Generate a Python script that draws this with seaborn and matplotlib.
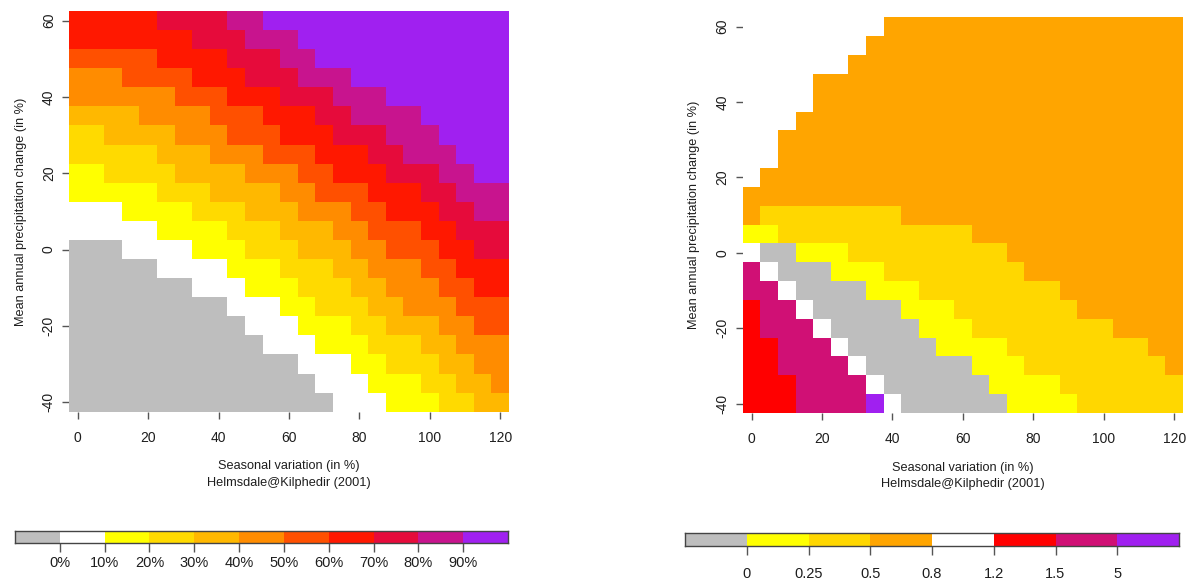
import numpy as np
import pandas as pd
import matplotlib
matplotlib.use("Agg")
import matplotlib.pyplot as plt
from matplotlib.colors import ListedColormap
import seaborn as sns

# grid of the sensitivity domain
SEASONAL = np.arange(0, 125, 5)          # seasonal variation (%), columns
PRECIP = np.arange(60, -45, -5)          # mean annual precipitation change (%), rows, top first

X_TICKS = [0, 20, 40, 60, 80, 100, 120]
Y_TICKS = [60, 40, 20, 0, -20, -40]

# ---- left panel: percentage classes ----
PCT_COLORS = ["#BEBEBE", "#FFFFFF", "#FFFF00", "#FFDA00", "#FFB800", "#FF8C00",
              "#FF5000", "#FF1800", "#E60B3B", "#C8148E", "#A020F0"]
PCT_LABELS = ["0%", "10%", "20%", "30%", "40%", "50%", "60%", "70%", "80%", "90%"]
# one string per row (60 at top), one hex digit per column = class index
PCT_CLASSES = [
    "77777888899AAAAAAAAAAAAAA",
    "7777777888999AAAAAAAAAAAA",
    "66666777788899AAAAAAAAAAA",
    "5556666777888999AAAAAAAAA",
    "555555666777888999AAAAAAA",
    "44445555666777889999AAAAA",
    "334444555666777888999AAAA",
    "3333344455566677788999AAA",
    "22333344445556677788899AA",
    "2222233344445566677788999",
    "1112222333444555667778899",
    "1111122223334445566677888",
    "0001111222333444556667788",
    "0000011112223334455566777",
    "0000000111222333445556677",
    "0000000001112233344555666",
    "0000000000111222334445566",
    "0000000000011122233344555",
    "0000000000000111223334455",
    "0000000000000011122233445",
    "0000000000000001112223344",
]

# ---- right panel: ratio classes ----
RATIO_COLORS = ["#BEBEBE", "#FFFF00", "#FFD700", "#FFA500", "#FFFFFF",
                "#FF0000", "#D01075", "#A020F0"]
RATIO_LABELS = ["0", "0.25", "0.5", "0.8", "1.2", "1.5", "5"]
RATIO_CLASSES = [
    "4444444433333333333333333",
    "4444444333333333333333333",
    "4444443333333333333333333",
    "4444333333333333333333333",
    "4444333333333333333333333",
    "4443333333333333333333333",
    "4433333333333333333333333",
    "4433333333333333333333333",
    "4333333333333333333333333",
    "3333333333333333333333333",
    "3222222223333333333333333",
    "1122222222222333333333333",
    "4001112222222223333333333",
    "6400011122222222333333333",
    "6640000111222222223333333",
    "5664000001112222222333333",
    "5666400000111222222223333",
    "5566640000011112222222233",
    "5566664000000111222222223",
    "5556666400000011112222222",
    "5556666740000001111222222",
]

XLABEL = "Seasonal variation (in %)\nHelmsdale@Kilphedir (2001)"
YLABEL = "Mean annual precipitation change (in %)"

TEXT = "#1e1e1e"
TICK = "#555555"


def to_grid(rows):
    return pd.DataFrame([[int(c, 16) for c in r] for r in rows], index=PRECIP, columns=SEASONAL)


def draw_panel(fig, rect, rows, colors):
    ax = fig.add_axes(rect)
    sns.heatmap(to_grid(rows), cmap=ListedColormap(colors), vmin=-0.5, vmax=len(colors) - 0.5,
                cbar=False, xticklabels=False, yticklabels=False, ax=ax)
    xpos = np.interp(X_TICKS, SEASONAL, np.arange(len(SEASONAL))) + 0.5
    ypos = np.interp(Y_TICKS, PRECIP[::-1], np.arange(len(PRECIP))[::-1]) + 0.5
    ax.set_xticks(xpos)
    ax.set_xticklabels([str(v) for v in X_TICKS], rotation=0)
    ax.set_yticks(ypos)
    ax.set_yticklabels([str(v) for v in Y_TICKS], rotation=90, va="center")
    ax.tick_params(axis="both", bottom=True, left=True, length=5, width=1, color=TICK,
                   labelsize=10, labelcolor=TEXT)
    ax.tick_params(axis="x", pad=9)
    ax.tick_params(axis="y", pad=4.5)
    ax.set_xlabel(XLABEL, fontsize=9.2, color=TEXT, labelpad=11, linespacing=1.5)
    ax.set_ylabel(YLABEL, fontsize=9.2, color=TEXT, labelpad=11)
    return ax


def draw_legend(fig, rect, colors, labels, pad):
    ax = fig.add_axes(rect)
    bar = pd.DataFrame([list(range(len(colors)))])
    sns.heatmap(bar, cmap=ListedColormap(colors), vmin=-0.5, vmax=len(colors) - 0.5,
                cbar=False, xticklabels=False, yticklabels=False, ax=ax)
    ax.set_xticks(np.arange(1, len(colors)))
    ax.set_xticklabels(labels, rotation=0)
    ax.set_yticks([])
    ax.tick_params(axis="x", bottom=True, length=6.5, width=1, color=TICK,
                   labelsize=10.5, labelcolor=TEXT, pad=pad)
    for s in ax.spines.values():
        s.set_visible(True)
        s.set_color("#444444")
        s.set_linewidth(1)
    return ax


def main():
    sns.set_style("ticks")
    plt.rcParams["font.family"] = ["Liberation Sans", "DejaVu Sans"]

    W, H = 1190, 581
    fig = plt.figure(figsize=(W / 100, H / 100), dpi=100)

    draw_panel(fig, [69 / W, 1 - 411.7 / H, 440 / W, 400.7 / H], PCT_CLASSES, PCT_COLORS)
    draw_panel(fig, [742.7 / W, 1 - 413 / H, 440.3 / W, 395.7 / H], RATIO_CLASSES, RATIO_COLORS)

    draw_legend(fig, [15 / W, 1 - 543.3 / H, 493 / W, 12.3 / H], PCT_COLORS, PCT_LABELS, pad=3)
    draw_legend(fig, [685 / W, 1 - 545.7 / H, 494 / W, 12.3 / H], RATIO_COLORS, RATIO_LABELS, pad=9)

    fig.savefig("out.png", dpi=100)


if __name__ == "__main__":
    main()
